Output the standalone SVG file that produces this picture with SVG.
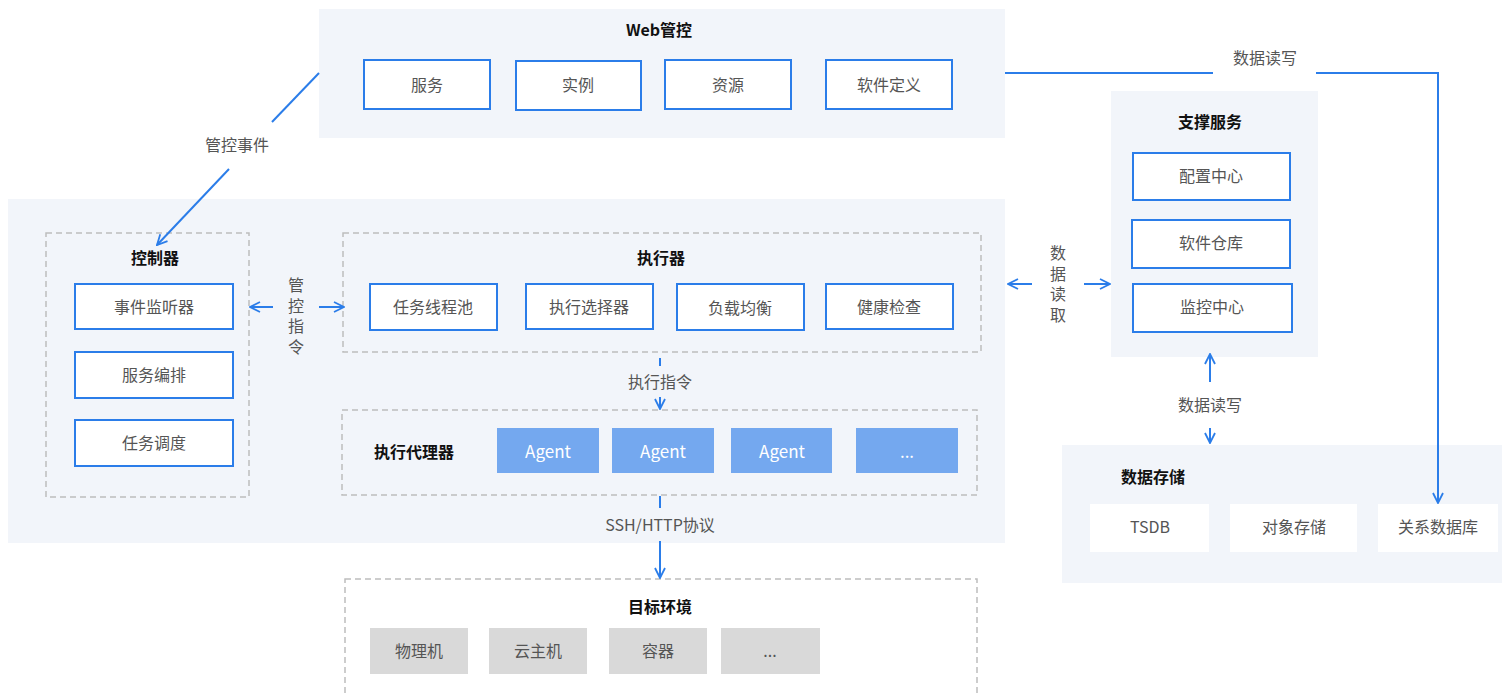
<svg xmlns="http://www.w3.org/2000/svg" width="1502" height="693" viewBox="0 0 1502 693">
<defs>
<style>
text{font-family:"Noto Sans CJK SC","Noto Sans",sans-serif;font-size:16px;fill:#555;text-anchor:middle;dominant-baseline:central}
.t{font-weight:bold;fill:#111}
.v{writing-mode:vertical-rl;letter-spacing:4.5px;text-orientation:upright}
.panel{fill:#f2f5fa}
.bx{fill:#fff;stroke:#2b7de9;stroke-width:2}
.dash{fill:none;stroke:#bdbdbd;stroke-width:1.5;stroke-dasharray:6 4}
.ag{fill:#74a8ef}
.agt{fill:#fff;font-size:17px}
.gr{fill:#d9d9d9}
.wb{fill:#fff}
.ln{fill:none;stroke:#2b7de9;stroke-width:2}
</style>
<marker id="ah" viewBox="0 0 12 12" refX="11" refY="6" markerWidth="12" markerHeight="12" markerUnits="userSpaceOnUse" orient="auto">
<path d="M1,1 L11,6 L1,11" fill="none" stroke="#2b7de9" stroke-width="1.8"/>
</marker>
</defs>
<rect width="1502" height="693" fill="#fff"/>

<g id="web">
<rect class="panel" x="319" y="9" width="686" height="129"/>
<text class="t" x="659" y="29">Web管控</text>
<rect class="bx" x="364" y="60" width="126" height="49"/><text x="427" y="84">服务</text>
<rect class="bx" x="516" y="61" width="125" height="49"/><text x="578" y="84">实例</text>
<rect class="bx" x="665" y="60" width="126" height="49"/><text x="728" y="84">资源</text>
<rect class="bx" x="826" y="60" width="126" height="49"/><text x="889" y="84">软件定义</text>
</g>

<g id="main">
<rect class="panel" x="8" y="199" width="997" height="344"/>
</g>

<g id="controller">
<rect class="dash" x="46" y="233" width="203" height="264"/>
<text class="t" x="155" y="257">控制器</text>
<rect class="bx" x="75" y="284" width="158" height="45"/><text x="154" y="306">事件监听器</text>
<rect class="bx" x="75" y="352" width="158" height="46"/><text x="154" y="374">服务编排</text>
<rect class="bx" x="75" y="420" width="158" height="46"/><text x="154" y="442">任务调度</text>
</g>

<g id="executor">
<rect class="dash" x="343" y="233" width="638" height="119"/>
<text class="t" x="661" y="257">执行器</text>
<rect class="bx" x="370" y="284" width="127" height="46"/><text x="433" y="306">任务线程池</text>
<rect class="bx" x="526" y="284" width="127" height="45"/><text x="589" y="306">执行选择器</text>
<rect class="bx" x="677" y="284" width="127" height="46"/><text x="740" y="307">负载均衡</text>
<rect class="bx" x="826" y="284" width="127" height="45"/><text x="889" y="306">健康检查</text>
</g>

<g id="agents">
<rect class="dash" x="342" y="410" width="635" height="85"/>
<text class="t" x="414" y="451">执行代理器</text>
<rect class="ag" x="497" y="428" width="102" height="45"/><text class="agt" x="548" y="450">Agent</text>
<rect class="ag" x="612" y="428" width="102" height="45"/><text class="agt" x="663" y="450">Agent</text>
<rect class="ag" x="731" y="428" width="101" height="45"/><text class="agt" x="782" y="450">Agent</text>
<rect class="ag" x="856" y="428" width="102" height="45"/><text class="agt" x="907" y="450">...</text>
</g>

<g id="target">
<rect class="dash" x="345" y="579" width="632" height="130"/>
<text class="t" x="660" y="606">目标环境</text>
<rect class="gr" x="370" y="628" width="98" height="46"/><text x="419" y="650">物理机</text>
<rect class="gr" x="489" y="628" width="98" height="46"/><text x="538" y="650">云主机</text>
<rect class="gr" x="609" y="628" width="98" height="46"/><text x="658" y="650">容器</text>
<rect class="gr" x="721" y="628" width="99" height="46"/><text x="770" y="650">...</text>
</g>

<g id="support">
<rect class="panel" x="1111" y="91" width="207" height="266"/>
<text class="t" x="1210" y="121">支撑服务</text>
<rect class="bx" x="1133" y="153" width="157" height="47"/><text x="1211" y="175">配置中心</text>
<rect class="bx" x="1132" y="220" width="158" height="48"/><text x="1211" y="242">软件仓库</text>
<rect class="bx" x="1133" y="284" width="159" height="48"/><text x="1212" y="306">监控中心</text>
</g>

<g id="storage">
<rect class="panel" x="1062" y="445" width="440" height="138"/>
<text class="t" x="1153" y="476">数据存储</text>
<rect class="wb" x="1090" y="504" width="119" height="48"/><text x="1150" y="526">TSDB</text>
<rect class="wb" x="1230" y="504" width="127" height="48"/><text x="1294" y="526">对象存储</text>
<rect class="wb" x="1378" y="504" width="120" height="48"/><text x="1438" y="526">关系数据库</text>
</g>

<g id="connectors">
<line class="ln" x1="319" y1="73" x2="272" y2="122"/>
<text x="237" y="144">管控事件</text>
<line class="ln" x1="229" y1="169" x2="157" y2="245" marker-end="url(#ah)"/>

<line class="ln" x1="273" y1="307" x2="250" y2="307" marker-end="url(#ah)"/>
<line class="ln" x1="319" y1="307" x2="344" y2="307" marker-end="url(#ah)"/>
<text class="v" x="296" y="318">管控指令</text>

<line class="ln" x1="660" y1="358" x2="660" y2="366"/>
<text x="660" y="381">执行指令</text>
<line class="ln" x1="660" y1="397" x2="660" y2="409" marker-end="url(#ah)"/>

<line class="ln" x1="660" y1="496" x2="660" y2="508"/>
<text x="660" y="524">SSH/HTTP协议</text>
<line class="ln" x1="660" y1="541" x2="660" y2="578" marker-end="url(#ah)"/>

<line class="ln" x1="1032" y1="284" x2="1008" y2="284" marker-end="url(#ah)"/>
<line class="ln" x1="1084" y1="284" x2="1110" y2="284" marker-end="url(#ah)"/>
<text class="v" x="1058" y="286">数据读取</text>

<line class="ln" x1="1210" y1="382" x2="1210" y2="354" marker-end="url(#ah)"/>
<text x="1210" y="404">数据读写</text>
<line class="ln" x1="1210" y1="428" x2="1210" y2="443" marker-end="url(#ah)"/>

<polyline class="ln" points="1005,73 1213,73"/>
<text x="1265" y="57">数据读写</text>
<polyline class="ln" points="1316,73 1438,73 1438,503" marker-end="url(#ah)"/>
</g>
</svg>
